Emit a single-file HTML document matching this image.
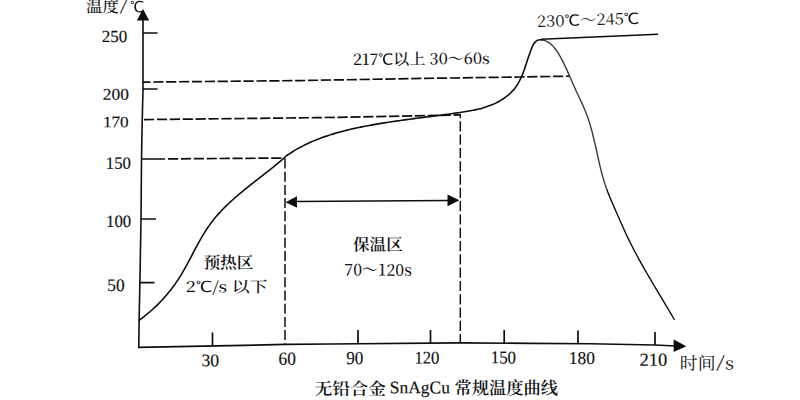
<!DOCTYPE html>
<html><head><meta charset="utf-8"><style>
html,body{margin:0;padding:0;background:#fff;width:800px;height:400px;overflow:hidden}
svg{display:block}
</style></head><body>
<svg width="800" height="400" viewBox="0 0 800 400">
<rect width="800" height="400" fill="#fff"/>
<g stroke="#0e0e0e" fill="none" stroke-width="1.7">
<path stroke-width="1.6" d="M143 14 L143 89 L142 130 L141.5 160 L141 219 L139.9 283 L139.1 320 L138.8 348"/>
<path d="M138 347.3 L230 345.6 L285 344.4 L330 344 L460 342.8 L530 343.4 L590 343.75 L655 345 L676 346"/>
<path d="M143 33 H157.5 M143 89 H157.5 M141 219 H156 M139.9 282.7 H154.5 M141.5 159 H165"/>
<path d="M212.5 332.5 V346 M358 330 V344 M430.5 330 V343 M504.2 330 V343.2 M578 330.6 V343.8 M655 332 V345"/>
<path d="M138.94 320.44 C139.76 319.85 140.58 319.24 141.39 318.63 C142.20 318.02 143.00 317.40 143.80 316.78 C144.60 316.16 145.38 315.53 146.17 314.89 C146.95 314.25 147.73 313.61 148.50 312.96 C149.27 312.31 150.03 311.65 150.78 310.98 C151.54 310.32 152.29 309.65 153.03 308.97 C153.77 308.30 154.51 307.61 155.23 306.92 C155.96 306.23 156.68 305.54 157.40 304.84 C158.11 304.13 158.82 303.42 159.52 302.71 C160.21 301.99 160.91 301.27 161.59 300.54 C162.28 299.81 162.95 299.08 163.62 298.34 C164.29 297.60 164.96 296.85 165.61 296.10 C166.27 295.35 166.92 294.59 167.56 293.82 C168.20 293.06 168.83 292.28 169.46 291.51 C170.08 290.73 170.70 289.94 171.31 289.15 C171.92 288.36 172.52 287.57 173.12 286.77 C173.71 285.96 174.30 285.16 174.88 284.34 C175.46 283.53 176.03 282.71 176.59 281.88 C177.15 281.06 177.71 280.22 178.26 279.39 C178.80 278.55 179.34 277.70 179.88 276.86 C180.41 276.01 180.93 275.15 181.45 274.29 C181.97 273.43 182.48 272.57 182.99 271.70 C183.49 270.83 183.99 269.96 184.49 269.08 C184.98 268.21 185.47 267.33 185.96 266.44 C186.44 265.56 186.93 264.68 187.41 263.79 C187.89 262.90 188.36 262.01 188.84 261.12 C189.31 260.23 189.78 259.34 190.25 258.45 C190.72 257.55 191.19 256.66 191.66 255.76 C192.13 254.87 192.60 253.97 193.06 253.08 C193.53 252.19 194.00 251.29 194.47 250.40 C194.94 249.51 195.41 248.62 195.89 247.73 C196.36 246.84 196.84 245.95 197.31 245.07 C197.79 244.18 198.27 243.30 198.76 242.42 C199.24 241.54 199.73 240.66 200.23 239.79 C200.72 238.92 201.22 238.05 201.72 237.19 C202.23 236.32 202.74 235.46 203.25 234.61 C203.77 233.75 204.29 232.90 204.82 232.06 C205.35 231.21 205.89 230.38 206.44 229.54 C206.98 228.71 207.54 227.89 208.10 227.07 C208.66 226.25 209.23 225.44 209.81 224.64 C210.40 223.83 210.99 223.04 211.59 222.25 C212.19 221.46 212.80 220.68 213.42 219.90 C214.04 219.13 214.67 218.36 215.30 217.60 C215.94 216.84 216.58 216.09 217.24 215.34 C217.89 214.59 218.55 213.85 219.22 213.12 C219.89 212.38 220.56 211.65 221.24 210.93 C221.93 210.21 222.62 209.49 223.31 208.78 C224.01 208.07 224.72 207.36 225.43 206.66 C226.13 205.96 226.85 205.26 227.57 204.57 C228.29 203.88 229.02 203.19 229.75 202.51 C230.49 201.82 231.23 201.15 231.97 200.47 C232.71 199.80 233.46 199.13 234.21 198.46 C234.96 197.80 235.72 197.14 236.48 196.48 C237.24 195.82 238.01 195.16 238.78 194.51 C239.54 193.86 240.32 193.21 241.09 192.57 C241.87 191.92 242.64 191.28 243.42 190.64 C244.20 190.00 244.99 189.36 245.77 188.72 C246.56 188.09 247.35 187.45 248.14 186.82 C248.93 186.19 249.72 185.56 250.51 184.93 C251.30 184.31 252.10 183.68 252.89 183.05 C253.69 182.43 254.48 181.81 255.28 181.18 C256.07 180.56 256.87 179.94 257.67 179.32 C258.46 178.70 259.26 178.08 260.06 177.46 C260.85 176.84 261.65 176.22 262.44 175.60 C263.24 174.98 264.03 174.36 264.82 173.74 C265.62 173.12 266.41 172.50 267.20 171.88 C267.98 171.25 268.77 170.63 269.56 170.01 C270.34 169.39 271.13 168.76 271.91 168.14 C272.69 167.52 273.46 166.89 274.24 166.26 C275.01 165.63 275.78 165.01 276.55 164.37 C277.32 163.74 278.08 163.11 278.84 162.48 C279.60 161.84 280.36 161.20 281.11 160.56 C281.86 159.92 282.61 159.28 283.35 158.64 C284.09 157.99 284.83 157.34 285.56 156.69" stroke-width="1.6"/>
<path d="M285.42 156.46 C286.25 155.87 287.09 155.30 287.93 154.73 C288.77 154.16 289.61 153.61 290.46 153.06 C291.31 152.52 292.16 151.98 293.02 151.46 C293.88 150.93 294.74 150.42 295.61 149.91 C296.48 149.40 297.35 148.91 298.23 148.42 C299.10 147.93 299.98 147.46 300.87 146.99 C301.75 146.52 302.64 146.06 303.53 145.61 C304.42 145.16 305.32 144.72 306.22 144.29 C307.12 143.86 308.02 143.43 308.93 143.02 C309.84 142.60 310.75 142.19 311.66 141.79 C312.57 141.39 313.49 141.00 314.41 140.62 C315.33 140.24 316.26 139.86 317.18 139.49 C318.11 139.12 319.04 138.76 319.97 138.41 C320.91 138.06 321.84 137.71 322.78 137.37 C323.72 137.03 324.66 136.70 325.60 136.38 C326.55 136.05 327.49 135.73 328.44 135.42 C329.39 135.11 330.34 134.80 331.30 134.51 C332.25 134.21 333.21 133.91 334.17 133.63 C335.13 133.34 336.09 133.06 337.05 132.78 C338.01 132.51 338.98 132.24 339.94 131.97 C340.91 131.71 341.88 131.45 342.85 131.20 C343.82 130.95 344.79 130.70 345.76 130.45 C346.73 130.21 347.71 129.97 348.68 129.74 C349.66 129.50 350.64 129.28 351.62 129.05 C352.59 128.83 353.57 128.61 354.55 128.39 C355.54 128.17 356.52 127.96 357.50 127.75 C358.48 127.55 359.47 127.34 360.45 127.14 C361.43 126.94 362.42 126.74 363.40 126.55 C364.39 126.36 365.38 126.16 366.36 125.98 C367.35 125.79 368.34 125.61 369.32 125.42 C370.31 125.24 371.30 125.06 372.29 124.89 C373.27 124.71 374.26 124.54 375.25 124.37 C376.24 124.20 377.22 124.03 378.21 123.86 C379.20 123.70 380.19 123.53 381.18 123.37 C382.17 123.21 383.16 123.05 384.15 122.89 C385.13 122.74 386.12 122.58 387.11 122.43 C388.10 122.27 389.09 122.12 390.08 121.97 C391.07 121.82 392.06 121.68 393.05 121.53 C394.04 121.38 395.03 121.24 396.02 121.10 C397.01 120.95 398.00 120.81 398.99 120.67 C399.98 120.53 400.97 120.39 401.97 120.25 C402.96 120.12 403.95 119.98 404.94 119.84 C405.93 119.71 406.92 119.57 407.91 119.44 C408.90 119.31 409.89 119.18 410.89 119.04 C411.88 118.91 412.87 118.78 413.86 118.65 C414.85 118.52 415.84 118.39 416.84 118.26 C417.83 118.13 418.82 118.00 419.81 117.87 C420.80 117.74 421.80 117.62 422.79 117.49 C423.78 117.36 424.77 117.23 425.76 117.10 C426.76 116.98 427.75 116.85 428.74 116.72 C429.73 116.59 430.72 116.47 431.72 116.34 C432.71 116.21 433.70 116.08 434.69 115.95 C435.69 115.82 436.68 115.69 437.67 115.56 C438.66 115.43 439.66 115.30 440.65 115.17 C441.64 115.04 442.63 114.91 443.63 114.78 C444.62 114.64 445.61 114.51 446.60 114.38 C447.59 114.24 448.59 114.11 449.58 113.97 C450.57 113.83 451.56 113.70 452.56 113.56 C453.55 113.42 454.54 113.28 455.53 113.14 C456.53 113.00 457.52 112.85 458.51 112.71 C459.50 112.57 460.49 112.42 461.49 112.27 C462.48 112.12 463.47 111.97 464.46 111.81 C465.45 111.66 466.44 111.50 467.43 111.33 C468.41 111.16 469.40 110.99 470.38 110.81 C471.37 110.63 472.35 110.44 473.33 110.24 C474.31 110.04 475.29 109.84 476.26 109.62 C477.24 109.40 478.21 109.17 479.18 108.93 C480.15 108.69 481.11 108.43 482.07 108.16 C483.04 107.89 483.99 107.61 484.95 107.31 C485.90 107.01 486.85 106.70 487.79 106.37 C488.74 106.04 489.67 105.69 490.61 105.32 C491.54 104.95 492.47 104.56 493.39 104.15 C494.31 103.75 495.23 103.32 496.14 102.87 C497.05 102.42 497.95 101.95 498.84 101.45 C499.73 100.96 500.61 100.45 501.48 99.92 C502.34 99.38 503.19 98.83 504.03 98.25 C504.86 97.68 505.68 97.08 506.48 96.47 C507.28 95.85 508.06 95.22 508.81 94.56 C509.57 93.91 510.30 93.23 511.01 92.54 C511.72 91.84 512.40 91.13 513.06 90.40 C513.71 89.66 514.33 88.91 514.93 88.14 C515.52 87.36 516.09 86.57 516.63 85.77 C517.17 84.96 517.69 84.13 518.18 83.29 C518.67 82.45 519.14 81.60 519.59 80.73 C520.04 79.86 520.47 78.98 520.88 78.08 C521.30 77.19 521.69 76.28 522.08 75.37 C522.46 74.45 522.83 73.52 523.19 72.58 C523.54 71.65 523.89 70.70 524.23 69.75 C524.57 68.80 524.90 67.84 525.23 66.87 C525.56 65.91 525.88 64.94 526.20 63.96 C526.52 62.99 526.84 62.01 527.16 61.03 C527.48 60.05 527.80 59.07 528.13 58.08 C528.46 57.10 528.79 56.11 529.12 55.13 C529.46 54.15 529.81 53.16 530.16 52.18 C530.52 51.20 530.88 50.23 531.26 49.25 C531.64 48.28 532.03 47.31 532.45 46.38 C532.87 45.45 533.33 44.57 533.83 43.76 C534.34 42.95 534.90 42.23 535.53 41.63 C536.15 41.02 536.85 40.54 537.64 40.21 C538.43 39.89 539.32 39.74 540.27 39.73 C541.22 39.73 542.23 39.87 543.24 40.12" stroke-width="1.6"/>
<path d="M543.24 40.12 C544.24 40.37 545.25 40.73 546.19 41.15 C547.14 41.58 548.03 42.07 548.87 42.63 C549.72 43.19 550.51 43.80 551.27 44.47 C552.02 45.14 552.74 45.85 553.41 46.60 C554.09 47.35 554.74 48.14 555.35 48.96 C555.97 49.78 556.55 50.62 557.12 51.48 C557.69 52.33 558.23 53.21 558.76 54.08 C559.28 54.96 559.80 55.84 560.30 56.73 C560.80 57.61 561.28 58.50 561.76 59.39 C562.23 60.28 562.70 61.17 563.15 62.06 C563.60 62.95 564.04 63.85 564.48 64.75 C564.91 65.65 565.34 66.55 565.76 67.45 C566.18 68.35 566.59 69.25 567.00 70.16 C567.41 71.06 567.81 71.97 568.21 72.88 C568.61 73.78 569.00 74.69 569.40 75.60 C569.79 76.51 570.18 77.42 570.58 78.33 C570.97 79.24 571.36 80.15 571.75 81.06 C572.15 81.97 572.54 82.88 572.94 83.79 C573.34 84.70 573.74 85.61 574.15 86.52 C574.55 87.43 574.96 88.34 575.38 89.25 C575.80 90.16 576.22 91.07 576.64 91.97 C577.07 92.88 577.50 93.79 577.92 94.70 C578.35 95.61 578.78 96.52 579.21 97.43 C579.64 98.34 580.07 99.25 580.50 100.16 C580.92 101.07 581.35 101.98 581.77 102.90 C582.19 103.81 582.60 104.73 583.01 105.65 C583.42 106.57 583.83 107.49 584.22 108.42 C584.62 109.34 585.00 110.27 585.38 111.20 C585.76 112.13 586.13 113.06 586.48 114.00 C586.84 114.93 587.18 115.87 587.52 116.81 C587.86 117.76 588.18 118.70 588.50 119.65 C588.82 120.60 589.12 121.55 589.42 122.51 C589.72 123.46 590.02 124.42 590.30 125.38 C590.58 126.33 590.86 127.30 591.13 128.26 C591.40 129.22 591.66 130.19 591.92 131.15 C592.18 132.12 592.43 133.09 592.68 134.06 C592.92 135.03 593.16 136.00 593.40 136.98 C593.64 137.95 593.87 138.92 594.10 139.90 C594.33 140.88 594.56 141.85 594.78 142.83 C595.00 143.81 595.22 144.79 595.44 145.76 C595.66 146.74 595.88 147.72 596.10 148.70 C596.31 149.68 596.53 150.66 596.74 151.64 C596.96 152.62 597.17 153.60 597.39 154.58 C597.60 155.56 597.82 156.54 598.04 157.52 C598.25 158.50 598.47 159.48 598.69 160.46 C598.91 161.44 599.14 162.41 599.36 163.39 C599.59 164.37 599.82 165.34 600.05 166.32 C600.28 167.29 600.52 168.26 600.76 169.23 C601.00 170.21 601.25 171.18 601.50 172.14 C601.75 173.11 602.01 174.08 602.27 175.04 C602.54 176.01 602.81 176.97 603.08 177.93 C603.36 178.89 603.64 179.85 603.93 180.81 C604.22 181.76 604.52 182.72 604.83 183.67 C605.14 184.62 605.46 185.57 605.78 186.51 C606.11 187.46 606.44 188.40 606.79 189.34" stroke="#3a3a3a" stroke-width="1.4"/>
<path d="M606.79 189.34 C607.13 190.28 607.48 191.21 607.84 192.15 C608.20 193.08 608.57 194.01 608.94 194.94 C609.32 195.87 609.70 196.80 610.08 197.73 C610.46 198.65 610.85 199.58 611.24 200.50 C611.64 201.43 612.03 202.35 612.43 203.27 C612.83 204.19 613.23 205.11 613.63 206.03 C614.03 206.95 614.43 207.87 614.84 208.79 C615.24 209.71 615.64 210.63 616.04 211.55 C616.44 212.46 616.84 213.38 617.25 214.30 C617.65 215.22 618.05 216.14 618.45 217.05 C618.86 217.97 619.26 218.89 619.66 219.80 C620.07 220.72 620.47 221.63 620.88 222.55 C621.29 223.46 621.70 224.38 622.11 225.29 C622.52 226.20 622.93 227.11 623.34 228.02 C623.75 228.93 624.17 229.84 624.59 230.75 C625.01 231.66 625.43 232.57 625.85 233.47 C626.27 234.38 626.70 235.28 627.13 236.18 C627.55 237.09 627.99 237.99 628.42 238.89 C628.86 239.79 629.30 240.69 629.74 241.58 C630.18 242.48 630.63 243.37 631.08 244.27 C631.52 245.16 631.98 246.05 632.43 246.94 C632.89 247.83 633.35 248.72 633.81 249.61 C634.27 250.50 634.74 251.38 635.21 252.27 C635.67 253.15 636.14 254.03 636.62 254.92 C637.09 255.80 637.57 256.68 638.05 257.56 C638.52 258.44 639.01 259.32 639.49 260.19 C639.97 261.07 640.46 261.95 640.95 262.82 C641.43 263.70 641.92 264.57 642.42 265.44 C642.91 266.32 643.40 267.19 643.90 268.06 C644.39 268.93 644.89 269.80 645.39 270.67 C645.89 271.54 646.39 272.41 646.89 273.27 C647.40 274.14 647.90 275.01 648.41 275.87 C648.91 276.74 649.42 277.61 649.93 278.47 C650.43 279.34 650.94 280.20 651.45 281.06 C651.96 281.93 652.47 282.79 652.98 283.65 C653.50 284.52 654.01 285.38 654.52 286.24 C655.03 287.10 655.55 287.96 656.06 288.83 C656.58 289.69 657.09 290.55 657.61 291.41 C658.12 292.27 658.64 293.13 659.15 293.99 C659.67 294.85 660.18 295.71 660.70 296.57 C661.21 297.43 661.73 298.29 662.24 299.15 C662.76 300.01 663.27 300.87 663.79 301.73 C664.30 302.59 664.81 303.45 665.33 304.31 C665.84 305.17 666.35 306.03 666.86 306.89 C667.38 307.75 667.89 308.61 668.40 309.47 C668.91 310.33 669.42 311.19 669.93 312.05 C670.43 312.91 670.94 313.78 671.45 314.64 C671.95 315.50 672.46 316.36 672.96 317.23 C673.46 318.09 673.97 318.95 674.47 319.82" stroke-width="1.4"/>
<path d="M541 39.3 L658 34.3" stroke-width="1.5"/>
<path d="M296 201.5 L448 200.6" stroke-width="1.5"/>
</g>
<g stroke="#0e0e0e" fill="none" stroke-width="1.7" stroke-dasharray="10.2 2.7">
<path d="M143 82.1 L300 80.6 L370 79.3 L450 78 L520 77 L569 76.2" stroke-dashoffset="2.7"/>
<path d="M144 119.6 L315 117.7 L375 116.6 L460 114.9"/>
<path d="M168 158.9 L285 158"/>
</g>
<g stroke="#0e0e0e" fill="none" stroke-width="1.7" stroke-dasharray="10 3">
<path d="M285 158.5 V344.4" stroke-width="1.5" stroke-dasharray="10 3.2"/>
<path d="M460.3 114 V342.8" stroke-width="1.45" stroke-dasharray="10.2 3.1" stroke-dashoffset="6"/>
</g>
<g fill="#0e0e0e">
<path d="M143 9.1 L149.2 20.6 L136.8 20.6 Z"/>
<path d="M686.3 346.2 L673.6 339.5 L673.6 352 Z"/>
<path d="M285.6 202.2 L297 196.2 L297 207.7 Z"/>
<path d="M459.4 200.3 L447.5 194.4 L447.5 206.3 Z"/>
</g>
<g fill="#111">
<g transform="rotate(0.05 114.8 36.4)"><text stroke="#111" stroke-width="0.15" transform="matrix(1.0022 0 0 1.0006 101.81 42.05)" style='font-family:"Liberation Serif","Noto Serif CJK SC",serif;font-size:17px;font-weight:400'>250</text></g>
<g transform="rotate(0.05 116.0 94.2)"><text stroke="#111" stroke-width="0.15" transform="matrix(1.0253 0 0 0.9627 102.80 99.67)" style='font-family:"Liberation Serif","Noto Serif CJK SC",serif;font-size:17px;font-weight:400'>200</text></g>
<g transform="rotate(0.05 116.7 122.0)"><text stroke="#111" stroke-width="0.15" transform="matrix(1.0140 0 0 0.9334 102.91 127.25)" style='font-family:"Liberation Serif","Noto Serif CJK SC",serif;font-size:17px;font-weight:400'>170</text></g>
<g transform="rotate(0.05 119.1 163.2)"><text stroke="#111" stroke-width="0.15" transform="matrix(0.9840 0 0 1.0050 105.81 168.74)" style='font-family:"Liberation Serif","Noto Serif CJK SC",serif;font-size:17px;font-weight:400'>150</text></g>
<g transform="rotate(0.05 119.3 221.3)"><text stroke="#111" stroke-width="0.15" transform="matrix(0.9892 0 0 1.0081 106.02 226.95)" style='font-family:"Liberation Serif","Noto Serif CJK SC",serif;font-size:17px;font-weight:400'>100</text></g>
<g transform="rotate(0.05 116.2 285.1)"><text stroke="#111" stroke-width="0.15" transform="matrix(1.0202 0 0 1.0368 107.32 290.96)" style='font-family:"Liberation Serif","Noto Serif CJK SC",serif;font-size:17px;font-weight:400'>50</text></g>
<g transform="rotate(0.05 210.4 360.5)"><text stroke="#111" stroke-width="0.15" transform="matrix(1.0439 0 0 1.0496 201.41 366.17)" style='font-family:"Liberation Serif","Noto Serif CJK SC",serif;font-size:17px;font-weight:400'>30</text></g>
<g transform="rotate(0.05 287.1 358.8)"><text stroke="#111" stroke-width="0.15" transform="matrix(1.0154 0 0 1.0930 278.53 364.65)" style='font-family:"Liberation Serif","Noto Serif CJK SC",serif;font-size:17px;font-weight:400'>60</text></g>
<g transform="rotate(0.05 354.9 358.4)"><text stroke="#111" stroke-width="0.15" transform="matrix(1.0102 0 0 1.0729 346.20 364.12)" style='font-family:"Liberation Serif","Noto Serif CJK SC",serif;font-size:17px;font-weight:400'>90</text></g>
<g transform="rotate(0.05 427.6 357.7)"><text stroke="#111" stroke-width="0.15" transform="matrix(0.9773 0 0 1.0483 414.49 363.55)" style='font-family:"Liberation Serif","Noto Serif CJK SC",serif;font-size:17px;font-weight:400'>120</text></g>
<g transform="rotate(0.05 504.2 357.7)"><text stroke="#111" stroke-width="0.15" transform="matrix(0.9925 0 0 1.0660 490.75 363.38)" style='font-family:"Liberation Serif","Noto Serif CJK SC",serif;font-size:17px;font-weight:400'>150</text></g>
<g transform="rotate(0.05 582.7 358.3)"><text stroke="#111" stroke-width="0.15" transform="matrix(1.0244 0 0 1.0631 568.87 364.10)" style='font-family:"Liberation Serif","Noto Serif CJK SC",serif;font-size:17px;font-weight:400'>180</text></g>
<g transform="rotate(0.05 653.5 360.0)"><text stroke="#111" stroke-width="0.15" transform="matrix(1.0933 0 0 1.0775 639.48 365.87)" style='font-family:"Liberation Serif","Noto Serif CJK SC",serif;font-size:17px;font-weight:400'>210</text></g>
<g transform="rotate(0.05 102.8 5.7)"><text transform="matrix(1.0229 0 0 1.0000 86.12 12.15)" style='font-family:"Noto Serif CJK SC","Liberation Serif",serif;font-size:16px;font-weight:500'>温度</text></g>
<g transform="rotate(0.05 123.6 6.3)"><text transform="matrix(1.3640 0 0 0.8984 119.61 11.10)" style='font-family:"Noto Serif CJK SC","Liberation Serif",serif;font-size:16px;font-weight:500'>/</text></g>
<g transform="rotate(0.05 137.0 6.6)"><text transform="matrix(0.9509 0 0 0.9731 129.95 12.17)" style='font-family:"Noto Serif CJK SC","Liberation Serif",serif;font-size:16px;font-weight:600'><tspan style="font-family:'WenQuanYi Zen Hei';font-weight:400">℃</tspan></text></g>
<g transform="rotate(0.05 697.6 363.0)"><text transform="matrix(1.1149 0 0 1.0975 679.84 369.53)" style='font-family:"Noto Serif CJK SC","Liberation Serif",serif;font-size:16px;font-weight:400'>时间</text></g>
<g transform="rotate(0.05 720.5 363.1)"><text transform="matrix(1.5837 0 0 1.0260 715.89 367.97)" style='font-family:"Noto Serif CJK SC","Liberation Serif",serif;font-size:16px;font-weight:400'>/</text></g>
<g transform="rotate(0.05 729.7 365.1)"><text transform="matrix(1.1897 0 0 1.0881 725.08 369.49)" style='font-family:"Noto Serif CJK SC","Liberation Serif",serif;font-size:16px;font-weight:400'>s</text></g>
<g transform="rotate(0.05 351.3 388.2)"><text transform="matrix(1.0501 0 0 0.9941 314.48 394.71)" style='font-family:"Noto Serif CJK SC","Liberation Serif",serif;font-size:17px;font-weight:600'>无铅合金</text></g>
<g transform="rotate(0.05 420.0 389.5)"><text stroke="#111" stroke-width="0.15" transform="matrix(1.0250 0 0 1.0359 389.87 393.32)" style='font-family:"Liberation Serif","Noto Serif CJK SC",serif;font-size:17px;font-weight:400'>SnAgCu</text></g>
<g transform="rotate(0.05 506.6 387.5)"><text transform="matrix(1.0160 0 0 1.0355 454.48 394.17)" style='font-family:"Noto Serif CJK SC","Liberation Serif",serif;font-size:17px;font-weight:600'>常规温度曲线</text></g>
<g transform="rotate(-1.9 588.1 19.6)"><text transform="matrix(1.0346 0 0 0.9616 536.77 25.34)" style='font-family:"Noto Serif CJK SC","Liberation Serif",serif;font-size:16px;font-weight:400'>230<tspan style="font-family:'WenQuanYi Zen Hei';font-weight:400">℃</tspan>～245<tspan style="font-family:'WenQuanYi Zen Hei';font-weight:400">℃</tspan></text></g>
<g transform="rotate(-0.5 421.5 58.8)"><text transform="matrix(1.0035 0 0 0.9656 352.86 64.47)" style='font-family:"Noto Serif CJK SC","Liberation Serif",serif;font-size:16px;font-weight:500'>217<tspan style="font-family:'WenQuanYi Zen Hei';font-weight:400">℃</tspan>以上 30～60s</text></g>
<g transform="rotate(0.05 228.8 262.2)"><text transform="matrix(1.0421 0 0 1.0365 203.40 268.54)" style='font-family:"Noto Serif CJK SC","Liberation Serif",serif;font-size:16px;font-weight:600'>预热区</text></g>
<g transform="rotate(0.05 226.6 287.2)"><text transform="matrix(1.1229 0 0 0.9591 185.66 292.14)" style='font-family:"Noto Serif CJK SC","Liberation Serif",serif;font-size:16px;font-weight:500'>2<tspan style="font-family:'WenQuanYi Zen Hei';font-weight:400">℃</tspan>/s 以下</text></g>
<g transform="rotate(0.05 378.1 244.4)"><text transform="matrix(1.0378 0 0 1.0392 353.00 250.61)" style='font-family:"Noto Serif CJK SC","Liberation Serif",serif;font-size:16px;font-weight:600'>保温区</text></g>
<g transform="rotate(0.05 378.3 269.8)"><text transform="matrix(0.9820 0 0 1.0243 344.38 275.62)" style='font-family:"Noto Serif CJK SC","Liberation Serif",serif;font-size:16px;font-weight:500'>70～120s</text></g>
</g>
</svg>
</body></html>
